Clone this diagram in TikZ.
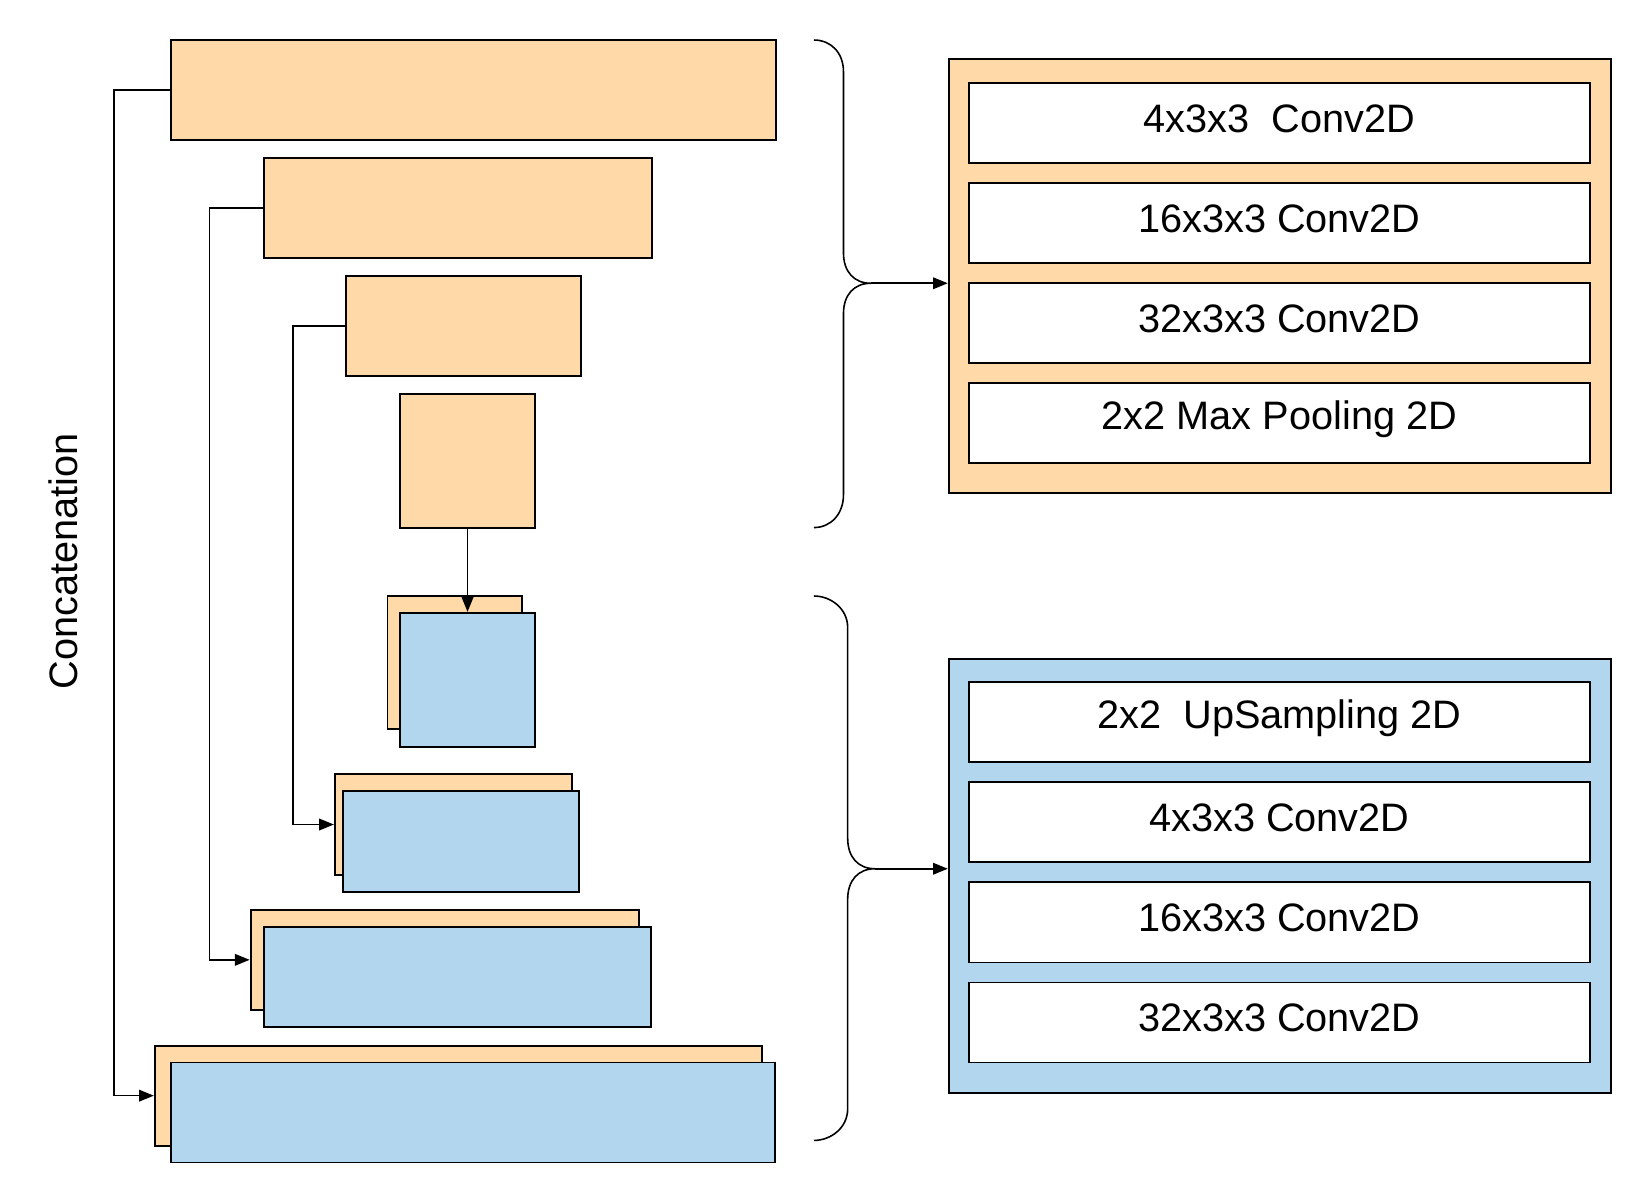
\documentclass[tikz,border=0pt]{standalone}
\usepackage{fontspec}
\setmainfont{Liberation Sans}
\usetikzlibrary{arrows.meta,fit}
\definecolor{eorange}{HTML}{FFDAA8}
\definecolor{dblue}{HTML}{B3D6EF}
\begin{document}
\begin{tikzpicture}[x=0.5pt,y=-0.5pt,
  obox/.style={draw, line width=0.9pt, fill=eorange, inner sep=0pt},
  bbox/.style={draw, line width=0.9pt, fill=dblue, inner sep=0pt},
  layer/.style={draw, line width=0.9pt, fill=white, inner sep=0pt},
  ltext/.style={inner sep=0pt, font=\fontsize{18.85}{22}\selectfont},
  conn/.style={line width=0.75pt},
  arr/.style={conn, -{Triangle[length=7pt,width=5.5pt]}},
  brace/.style={line width=0.75pt}]
\useasboundingbox (0,0) rectangle (1566,1141);
% encoder
\node[obox, fit={(162,38) (737,133)}] (e1) {};
\node[obox, fit={(251,150) (619,245)}] (e2) {};
\node[obox, fit={(329,262) (552,357)}] (e3) {};
\node[obox, fit={(380,374) (508,501)}] (e4) {};
% decoder
\node[obox, fit={(368,566) (496,692)}] (d1o) {};
\node[bbox, fit={(380,582) (508,709)}] (d1b) {};
\node[obox, fit={(318,735) (543,831)}] (d2o) {};
\node[bbox, fit={(326,751) (550,847)}] (d2b) {};
\node[obox, fit={(238,864) (607,959)}] (d3o) {};
\node[bbox, fit={(251,880) (618,975)}] (d3b) {};
\node[obox, fit={(147,993) (724,1088)}] (d4o) {};
\node[bbox, fit={(162,1009) (736,1104)}] (d4b) {};
% connectors
\draw[arr] (e1.west) -- ++(-53,0) |- (d4o.west);
\draw[arr] (e2.west) -- ++(-51,0) |- (d3o.west);
\draw[arr] (e3.west) -- ++(-50,0) |- (d2o.west);
\draw[arr] (e4.south) -- (d1b.north);
\node[rotate=90, ltext] (concat) at (60,533) {Concatenation};
% right panels
\node[obox, fit={(901,56) (1530,468)}] (enc) {};
\node[layer, fit={(920,79) (1510,155)}] (t1) {};
\node[layer, fit={(920,174) (1510,250)}] (t2) {};
\node[layer, fit={(920,269) (1510,345)}] (t3) {};
\node[layer, fit={(920,364) (1510,440)}] (t4) {};
\node[ltext] (t1l) at ([yshift=2pt]t1.center) {4x3x3\ \ Conv2D};
\node[ltext] (t2l) at ([yshift=2pt]t2.center) {16x3x3 Conv2D};
\node[ltext] (t3l) at ([yshift=2pt]t3.center) {32x3x3 Conv2D};
\node[ltext] (t4l) at ([yshift=2pt]t4.center) {2x2 Max Pooling 2D};
\node[bbox, fit={(901,626) (1530,1038)}] (dec) {};
\node[layer, fit={(920,648) (1510,724)}] (u1) {};
\node[layer, fit={(920,743) (1510,819)}] (u2) {};
\node[layer, fit={(920,838) (1510,914)}] (u3) {};
\node[layer, fit={(920,933) (1510,1009)}] (u4) {};
\node[ltext] (u1l) at ([yshift=2pt]u1.center) {2x2\ \ UpSampling 2D};
\node[ltext] (u2l) at ([yshift=2pt]u2.center) {4x3x3 Conv2D};
\node[ltext] (u3l) at ([yshift=2pt]u3.center) {16x3x3 Conv2D};
\node[ltext] (u4l) at ([yshift=2pt]u4.center) {32x3x3 Conv2D};
% braces
\coordinate (tipA) at (827,269);
\coordinate (tipB) at (831,825);
\draw[brace] (773,38) .. controls (789,38) and (801,50) .. (801,68) -- (801,240)
  .. controls (801,258) and (811,269) .. (tipA)
  .. controls (811,269) and (801,280) .. (801,298) -- (801,470)
  .. controls (801,488) and (789,501) .. (773,501);
\draw[brace] (773,566) .. controls (789,566) and (805,578) .. (805,596) -- (805,796)
  .. controls (805,814) and (815,825) .. (tipB)
  .. controls (815,825) and (805,836) .. (805,854) -- (805,1053)
  .. controls (805,1071) and (789,1083) .. (773,1083);
\draw[arr] (tipA) -- (enc.west |- tipA);
\draw[arr] (tipB) -- (dec.west |- tipB);
\end{tikzpicture}
\end{document}
